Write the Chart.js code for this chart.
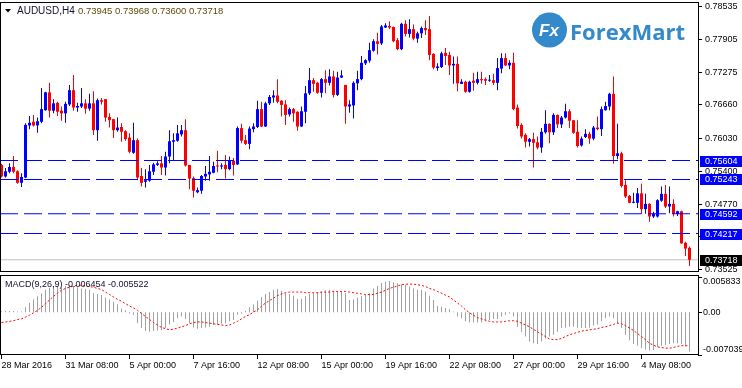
<!DOCTYPE html>
<html>
<head>
<meta charset="utf-8">
<script src="https://cdn.jsdelivr.net/npm/chart.js@4.4.0/dist/chart.umd.min.js"></script>
<style>
  body { margin: 0; background: #fff; }
  #wrap { position: relative; width: 742px; height: 388px; overflow: hidden; background: #fff; }
  #main { position: absolute; left: 0; top: 0; }
  #macd { position: absolute; left: 0; top: 274px; }
</style>
</head>
<body>
<div id="wrap">
  <canvas id="main" width="742" height="274"></canvas>
  <canvas id="macd" width="742" height="114"></canvas>
</div>
<script>
// AUDUSD H4 candles
let opens = [0.7552,0.7530,0.7539,0.7548,0.7540,0.7518,0.7528,0.7627,0.7634,0.7627,
  0.7634,0.7656,0.7690,0.7655,0.7670,0.7655,0.7650,0.7667,0.7694,0.7661,
  0.7663,0.7669,0.7659,0.7669,0.7618,0.7675,0.7677,0.7643,0.7639,0.7618,
  0.7624,0.7616,0.7604,0.7575,0.7599,0.7531,0.7520,0.7522,0.7539,0.7552,
  0.7555,0.7547,0.7568,0.7596,0.7598,0.7610,0.7618,0.7552,0.7527,0.7500,
  0.7503,0.7530,0.7534,0.7537,0.7551,0.7549,0.7552,0.7544,0.7560,0.7553,
  0.7622,0.7599,0.7592,0.7620,0.7624,0.7658,0.7625,0.7669,0.7680,0.7684,
  0.7674,0.7667,0.7648,0.7658,0.7653,0.7625,0.7653,0.7688,0.7713,0.7708,
  0.7689,0.7715,0.7708,0.7720,0.7685,0.7718,0.7704,0.7663,0.7665,0.7707,
  0.7715,0.7745,0.7750,0.7769,0.7787,0.7783,0.7813,0.7816,0.7814,0.7789,
  0.7772,0.7820,0.7801,0.7810,0.7792,0.7802,0.7812,0.7810,0.7763,0.7736,
  0.7738,0.7765,0.7761,0.7741,0.7744,0.7706,0.7710,0.7691,0.7712,0.7708,
  0.7715,0.7715,0.7712,0.7713,0.7708,0.7735,0.7755,0.7741,0.7746,0.7661,
  0.7628,0.7609,0.7596,0.7601,0.7595,0.7585,0.7614,0.7630,0.7614,0.7647,
  0.7629,0.7642,0.7654,0.7637,0.7615,0.7589,0.7605,0.7611,0.7602,0.7623,
  0.7620,0.7656,0.7663,0.7687,0.7569,0.7574,0.7514,0.7493,0.7480,0.7480,
  0.7498,0.7468,0.7478,0.7454,0.7454,0.7484,0.7497,0.7473,0.7478,0.7459,
  0.7464,0.7404,0.73945]
let highs = [0.7554,0.7546,0.7555,0.7569,0.7542,0.7536,0.7631,0.7645,0.7647,0.7642,
  0.7698,0.7691,0.7708,0.7677,0.7672,0.7663,0.7672,0.7704,0.7723,0.7670,
  0.7698,0.7677,0.7687,0.7692,0.7678,0.7679,0.7677,0.7650,0.7639,0.7642,
  0.7631,0.7618,0.7612,0.7632,0.7602,0.7546,0.7544,0.7552,0.7556,0.7559,
  0.7569,0.7577,0.7618,0.7612,0.7628,0.7628,0.7639,0.7552,0.7530,0.7509,
  0.7533,0.7550,0.7569,0.7558,0.7579,0.7555,0.7571,0.7568,0.7565,0.7625,
  0.7630,0.7609,0.7625,0.7631,0.7674,0.7672,0.7672,0.7685,0.7694,0.7715,
  0.7675,0.7675,0.7661,0.7660,0.7654,0.7663,0.7702,0.7736,0.7717,0.7710,
  0.7717,0.7732,0.7734,0.7731,0.7729,0.7732,0.7704,0.7675,0.7711,0.7731,
  0.7759,0.7753,0.7784,0.7791,0.7803,0.7818,0.7821,0.7825,0.7815,0.7793,
  0.7822,0.7827,0.7829,0.7819,0.7805,0.7815,0.7827,0.7835,0.7764,0.7745,
  0.7767,0.7774,0.7767,0.7758,0.7758,0.7715,0.7712,0.7712,0.7727,0.7729,
  0.7729,0.7718,0.7723,0.7725,0.7755,0.7764,0.7764,0.7751,0.7765,0.7667,
  0.7631,0.7612,0.7603,0.7613,0.7606,0.7622,0.7656,0.7631,0.7650,0.7648,
  0.7645,0.7668,0.7658,0.7637,0.7637,0.7606,0.7620,0.7615,0.7626,0.7644,
  0.7663,0.7672,0.7689,0.7720,0.7630,0.7577,0.7523,0.7495,0.7499,0.7508,
  0.7516,0.7497,0.7479,0.7463,0.7487,0.7511,0.7514,0.7511,0.7487,0.7465,
  0.7465,0.7406,0.73968]
let lows = [0.7528,0.7528,0.7536,0.7536,0.7516,0.7510,0.7527,0.7620,0.7625,0.7613,
  0.7631,0.7655,0.7642,0.7650,0.7645,0.7636,0.7632,0.7664,0.7655,0.7653,
  0.7660,0.7649,0.7655,0.7609,0.7598,0.7667,0.7634,0.7623,0.7603,0.7615,
  0.7596,0.7598,0.7574,0.7573,0.7523,0.7511,0.7509,0.7520,0.7533,0.7550,
  0.7533,0.7532,0.7555,0.7561,0.7596,0.7606,0.7549,0.7506,0.7490,0.7498,
  0.7497,0.7522,0.7522,0.7536,0.7538,0.7544,0.7526,0.7542,0.7532,0.7552,
  0.7593,0.7590,0.7582,0.7614,0.7622,0.7624,0.7624,0.7666,0.7670,0.7669,
  0.7644,0.7628,0.7644,0.7634,0.7617,0.7624,0.7631,0.7685,0.7691,0.7687,
  0.7680,0.7688,0.7703,0.7680,0.7683,0.7717,0.7630,0.7651,0.7640,0.7694,
  0.7713,0.7742,0.7746,0.7767,0.7762,0.7780,0.7812,0.7810,0.7785,0.7770,
  0.7770,0.7796,0.7794,0.7789,0.7784,0.7793,0.7799,0.7751,0.7734,0.7731,
  0.7736,0.7742,0.7723,0.7706,0.7692,0.7706,0.7689,0.7689,0.7693,0.7705,
  0.7706,0.7704,0.7710,0.7704,0.7694,0.7726,0.7740,0.7734,0.7656,0.7621,
  0.7602,0.7585,0.7587,0.7547,0.7582,0.7575,0.7611,0.7593,0.7609,0.7622,
  0.7622,0.7640,0.7622,0.7611,0.7585,0.7587,0.7603,0.7592,0.7599,0.7618,
  0.7607,0.7655,0.7656,0.7554,0.7563,0.7509,0.7489,0.7479,0.7479,0.7470,
  0.7460,0.7459,0.7444,0.7451,0.7452,0.7482,0.7470,0.7460,0.7454,0.7455,
  0.7402,0.7379,0.73600]
let closes = [0.7530,0.7540,0.7548,0.7539,0.7518,0.7529,0.7628,0.7632,0.7627,0.7635,
  0.7658,0.7690,0.7655,0.7669,0.7653,0.7650,0.7668,0.7694,0.7661,0.7664,
  0.7669,0.7659,0.7669,0.7618,0.7675,0.7672,0.7642,0.7637,0.7618,0.7623,
  0.7615,0.7601,0.7577,0.7599,0.7528,0.7518,0.7523,0.7540,0.7553,0.7555,
  0.7547,0.7568,0.7597,0.7599,0.7612,0.7618,0.7551,0.7526,0.7503,0.7504,
  0.7531,0.7535,0.7539,0.7550,0.7549,0.7551,0.7544,0.7561,0.7552,0.7622,
  0.7598,0.7592,0.7621,0.7625,0.7658,0.7625,0.7669,0.7681,0.7684,0.7672,
  0.7666,0.7647,0.7658,0.7650,0.7625,0.7654,0.7688,0.7713,0.7706,0.7689,
  0.7715,0.7708,0.7720,0.7685,0.7718,0.7722,0.7663,0.7667,0.7708,0.7715,
  0.7746,0.7751,0.7770,0.7787,0.7782,0.7815,0.7817,0.7813,0.7787,0.7772,
  0.7820,0.7801,0.7810,0.7792,0.7802,0.7812,0.7808,0.7761,0.7737,0.7739,
  0.7764,0.7759,0.7741,0.7744,0.7707,0.7710,0.7691,0.7710,0.7708,0.7715,
  0.7713,0.7712,0.7713,0.7708,0.7736,0.7755,0.7741,0.7746,0.7658,0.7626,
  0.7606,0.7596,0.7601,0.7594,0.7585,0.7615,0.7630,0.7614,0.7647,0.7629,
  0.7642,0.7654,0.7636,0.7613,0.7588,0.7602,0.7611,0.7602,0.7623,0.7620,
  0.7658,0.7664,0.7687,0.7569,0.7574,0.7512,0.7492,0.7480,0.7482,0.7498,
  0.7468,0.7478,0.7454,0.7459,0.7485,0.7497,0.7473,0.7478,0.7459,0.7464,
  0.7403,0.7393,0.73718]

// MACD(9,26,9): main line (histogram) and signal (dotted)
let macdMain = [0.0001,0.0002,0.0002,0.0002,0.0001,0.0001,0.0008,0.0015,0.0021,0.0026,
  0.0031,0.0037,0.0040,0.0043,0.0043,0.0041,0.0043,0.0045,0.0043,0.0041,
  0.0039,0.0038,0.0037,0.0031,0.0030,0.0028,0.0024,0.0021,0.0017,0.0013,
  0.0006,0.0003,-0.0002,-0.0004,-0.0018,-0.0026,-0.0031,-0.0032,-0.0031,-0.0030,
  -0.0029,-0.0026,-0.0020,-0.0016,-0.0010,-0.0007,-0.0011,-0.0018,-0.0025,-0.0027,
  -0.0026,-0.0025,-0.0024,-0.0021,-0.0020,-0.0019,-0.0018,-0.0015,-0.0013,-0.0004,
  -0.0002,0.0002,0.0008,0.0013,0.0019,0.0025,0.0030,0.0033,0.0037,0.0038,
  0.0035,0.0031,0.0030,0.0027,0.0022,0.0022,0.0026,0.0030,0.0031,0.0033,
  0.0034,0.0036,0.0037,0.0035,0.0034,0.0034,0.0031,0.0020,0.0021,0.0024,
  0.0026,0.0028,0.0031,0.0039,0.0043,0.0048,0.0050,0.0051,0.0049,0.0048,
  0.0046,0.0045,0.0042,0.0039,0.0037,0.0037,0.0034,0.0027,0.0020,0.0010,
  0.0009,0.0007,0.0005,0.0001,-0.0007,-0.0010,-0.0015,-0.0017,-0.0017,-0.0017,
  -0.0017,-0.0015,-0.0013,-0.0011,-0.0011,-0.0007,-0.0004,-0.0002,-0.0007,-0.0024,
  -0.0032,-0.0040,-0.0048,-0.0051,-0.0052,-0.0048,-0.0043,-0.0040,-0.0037,-0.0032,
  -0.0026,-0.0025,-0.0024,-0.0024,-0.0025,-0.0026,-0.0026,-0.0025,-0.0022,-0.0020,
  -0.0015,-0.0010,-0.0007,-0.0010,-0.0018,-0.0026,-0.0037,-0.0046,-0.0052,-0.0055,
  -0.0059,-0.0061,-0.0063,-0.0062,-0.0057,-0.0055,-0.0054,-0.0052,-0.0051,-0.0051,
  -0.0052,-0.0056,-0.006454]
let macdSignal = [-0.0017,-0.0016,-0.0015,-0.0014,-0.0012,-0.0011,-0.0008,-0.0005,-0.0001,0.0003,
  0.0008,0.0014,0.0020,0.0026,0.0031,0.0036,0.0039,0.0041,0.0043,0.0044,
  0.0044,0.0043,0.0042,0.0041,0.0039,0.0037,0.0033,0.0029,0.0025,0.0021,
  0.0018,0.0014,0.0010,0.0007,0.0003,-0.0002,-0.0007,-0.0012,-0.0017,-0.0021,
  -0.0025,-0.0027,-0.0029,-0.0028,-0.0026,-0.0024,-0.0022,-0.0019,-0.0017,-0.0016,
  -0.0016,-0.0017,-0.0018,-0.0019,-0.0020,-0.0021,-0.0022,-0.0021,-0.0018,-0.0015,
  -0.0011,-0.0007,-0.0004,0.0000,0.0004,0.0010,0.0015,0.0019,0.0023,0.0027,
  0.0030,0.0032,0.0033,0.0033,0.0033,0.0033,0.0032,0.0032,0.0032,0.0032,
  0.0033,0.0033,0.0033,0.0034,0.0034,0.0034,0.0034,0.0033,0.0032,0.0031,
  0.0030,0.0029,0.0029,0.0029,0.0031,0.0033,0.0036,0.0039,0.0041,0.0043,
  0.0045,0.0046,0.0046,0.0046,0.0045,0.0044,0.0042,0.0039,0.0037,0.0034,
  0.0031,0.0028,0.0025,0.0020,0.0015,0.0010,0.0004,-0.0001,-0.0005,-0.0009,
  -0.0011,-0.0013,-0.0015,-0.0016,-0.0016,-0.0016,-0.0015,-0.0014,-0.0014,-0.0015,
  -0.0018,-0.0021,-0.0024,-0.0028,-0.0032,-0.0036,-0.0040,-0.0044,-0.0045,-0.0045,
  -0.0043,-0.0040,-0.0037,-0.0035,-0.0033,-0.0031,-0.0030,-0.0029,-0.0028,-0.0027,
  -0.0025,-0.0024,-0.0022,-0.0020,-0.0018,-0.0019,-0.0022,-0.0026,-0.0030,-0.0035,
  -0.0040,-0.0045,-0.0051,-0.0054,-0.0057,-0.0058,-0.0059,-0.0059,-0.0058,-0.0056,
  -0.0055,-0.0055,-0.005522]

let levels = [0.75604, 0.75243, 0.74592, 0.74217]
let priceTicks = [0.73525, 0.74155, 0.74770, 0.75400, 0.76030, 0.76660, 0.77275, 0.77905, 0.78535]
let macdTicks = [0.005833, 0.00, -0.007039]
let macdTickText = ['0.005833', '0.00', '-0.007039']
let tickBars = [0, 16, 32, 48, 64, 80, 96, 112, 128, 144, 160]
let tickLabels = ['28 Mar 2016', '31 Mar 08:00', '5 Apr 00:00', '7 Apr 16:00', '12 Apr 08:00',
  '15 Apr 00:00', '19 Apr 16:00', '22 Apr 08:00', '27 Apr 00:00', '29 Apr 16:00', '4 May 08:00']

const FONT = '"Liberation Sans", Arial, sans-serif'
Chart.defaults.font.family = FONT
Chart.defaults.font.size = 9
Chart.defaults.color = '#000'

const xMin = -0.375, xMax = 174.125
const lastClose = closes[closes.length - 1]

let candleColor = closes.map((c, i) => c >= opens[i] ? '#0000ff' : '#ff0000')

function flatLine(v) {
  return [{x: xMin, y: v}, {x: xMax, y: v}]
}

let lineSets = levels.map(v => ({
  type: 'line', data: flatLine(v), borderColor: '#0000ff', borderWidth: 1,
  borderDash: [18, 6], pointRadius: 0, order: 0
}))

const mainDecor = {
  id: 'mainDecor',
  afterDraw(chart) {
    const ctx = chart.ctx
    const a = chart.chartArea
    const ys = chart.scales.y
    ctx.save()
    ctx.strokeStyle = '#000'
    ctx.lineWidth = 1
    ctx.strokeRect(a.left + 0.5, a.top + 0.5, a.right - a.left, a.bottom - a.top - 1)

    // title
    ctx.fillStyle = '#000'
    ctx.beginPath()
    ctx.moveTo(5, 9); ctx.lineTo(11, 9); ctx.lineTo(8, 12.5); ctx.closePath(); ctx.fill()
    ctx.font = '10px ' + FONT
    ctx.textBaseline = 'middle'
    ctx.textAlign = 'left'
    ctx.fillStyle = '#101030'
    ctx.fillText('AUDUSD,H4', 17, 11)
    ctx.fillStyle = '#5c4808'
    ctx.font = '9.5px ' + FONT
    ctx.fillText([opens[172], highs[172], lows[172], lastClose].map(v => v.toFixed(5)).join(' '), 78, 11)

    // logo
    ctx.fillStyle = '#3389ca'
    ctx.beginPath(); ctx.arc(549.5, 30, 17.5, 0, Math.PI * 2); ctx.fill()
    ctx.fillStyle = '#fff'
    ctx.textAlign = 'center'
    ctx.font = 'bold italic 17px ' + FONT
    ctx.fillText('Fx', 549, 31)
    ctx.fillStyle = '#3389ca'
    ctx.textAlign = 'left'
    ctx.textBaseline = 'alphabetic'
    ctx.font = 'bold 22px "Open Sans", ' + FONT
    ctx.fillText('ForexMart', 570, 40)

    // price boxes on the axis
    ctx.font = '9px ' + FONT
    ctx.textBaseline = 'middle'
    function box(v, col) {
      let py = ys.getPixelForValue(v)
      ctx.fillStyle = col
      ctx.fillRect(700, Math.round(py) - 5, 42, 11)
      ctx.fillStyle = '#fff'
      ctx.fillText(v.toFixed(5), 705, Math.round(py) + 0.5)
    }
    levels.forEach(v => box(v, '#0000ff'))
    box(lastClose, '#000')
    ctx.restore()
  }
}

new Chart(document.getElementById('main'), {
  type: 'bar',
  data: {
    datasets: lineSets.concat([
      { type: 'line', data: flatLine(lastClose), borderColor: '#c0c0c0', borderWidth: 1, pointRadius: 0, order: 3 },
      { data: lows.map((l, i) => ({x: i, y: [l, highs[i]]})), backgroundColor: candleColor,
        barThickness: 1, grouped: false, borderWidth: 0, inflateAmount: 0, order: 2 },
      { data: opens.map((o, i) => ({x: i, y: [o, closes[i]]})), backgroundColor: candleColor,
        barThickness: 3, minBarLength: 1, grouped: false, borderWidth: 0, inflateAmount: 0, order: 1 }
    ])
  },
  options: {
    responsive: false,
    animation: false,
    layout: { padding: { left: 0, right: 0, top: 2, bottom: 2 } },
    plugins: { legend: { display: false }, tooltip: { enabled: false } },
    scales: {
      x: { type: 'linear', min: xMin, max: xMax, offset: false, display: false, grid: { offset: false } },
      y: {
        position: 'right', min: 0.734855, max: 0.786155,
        afterFit(s) { s.width = 44; s.paddingTop = 0; s.paddingBottom = 0 },
        afterBuildTicks(s) { s.ticks = priceTicks.map(v => ({value: v})) },
        ticks: { autoSkip: false, padding: 3, callback: v => v.toFixed(5) },
        grid: { drawOnChartArea: false, drawTicks: true, tickLength: 4, color: '#000' },
        border: { display: false }
      }
    }
  },
  plugins: [mainDecor]
})

const macdDecor = {
  id: 'macdDecor',
  afterDraw(chart) {
    const ctx = chart.ctx
    const a = chart.chartArea
    const ys = chart.scales.y
    ctx.save()
    ctx.strokeStyle = '#000'
    ctx.lineWidth = 1
    ctx.strokeRect(a.left + 0.5, a.top + 0.5, a.right - a.left, a.bottom - a.top - 1)
    ctx.font = '9px ' + FONT
    ctx.textBaseline = 'middle'
    ctx.textAlign = 'left'
    ctx.fillStyle = '#000'
    macdTicks.forEach((v, k) => {
      let py = ys.getPixelForValue(v)
      ctx.beginPath(); ctx.moveTo(a.right, Math.round(py) + 0.5); ctx.lineTo(a.right + 4, Math.round(py) + 0.5); ctx.stroke()
      let ty = Math.min(Math.max(py, a.top + 7), a.bottom - 5)
      ctx.fillText(macdTickText[k], 703, ty)
    })
    ctx.fillStyle = '#101030'
    ctx.fillText('MACD(9,26,9) ' + macdMain[172].toFixed(6) + ' ' + macdSignal[172].toFixed(6), 5, 10.5)
    ctx.restore()
  }
}

new Chart(document.getElementById('macd'), {
  type: 'bar',
  data: {
    datasets: [
      { type: 'line', data: macdSignal.map((v, i) => ({x: i, y: v})), borderColor: '#ff0000', borderWidth: 1,
        borderDash: [2, 2], pointRadius: 0, order: 0 },
      { data: macdMain.map((v, i) => ({x: i, y: v})), backgroundColor: '#a0a0a0',
        barThickness: 1, grouped: false, borderWidth: 0, inflateAmount: 0, order: 1 }
    ]
  },
  options: {
    responsive: false,
    animation: false,
    layout: { padding: { left: 0, right: 0, top: 1, bottom: 0 } },
    plugins: { legend: { display: false }, tooltip: { enabled: false } },
    scales: {
      x: {
        type: 'linear', min: xMin, max: xMax, offset: false,
        afterBuildTicks(s) { s.ticks = tickBars.map(v => ({value: v})) },
        afterFit(s) { s.height = 33; s.paddingLeft = 0; s.paddingRight = 0 },
        ticks: {
          autoSkip: false, maxRotation: 0, minRotation: 0, align: 'start', padding: 1,
          callback: v => { let k = tickBars.indexOf(v); return k >= 0 ? tickLabels[k] : '' }
        },
        grid: { drawOnChartArea: false, drawTicks: true, tickLength: 4, color: '#000', offset: false },
        border: { display: false }
      },
      y: {
        position: 'right', min: -0.00702, max: 0.0061,
        afterFit(s) { s.width = 44 },
        ticks: { display: false },
        grid: { display: false },
        border: { display: false }
      }
    }
  },
  plugins: [macdDecor]
})
</script>
</body>
</html>
